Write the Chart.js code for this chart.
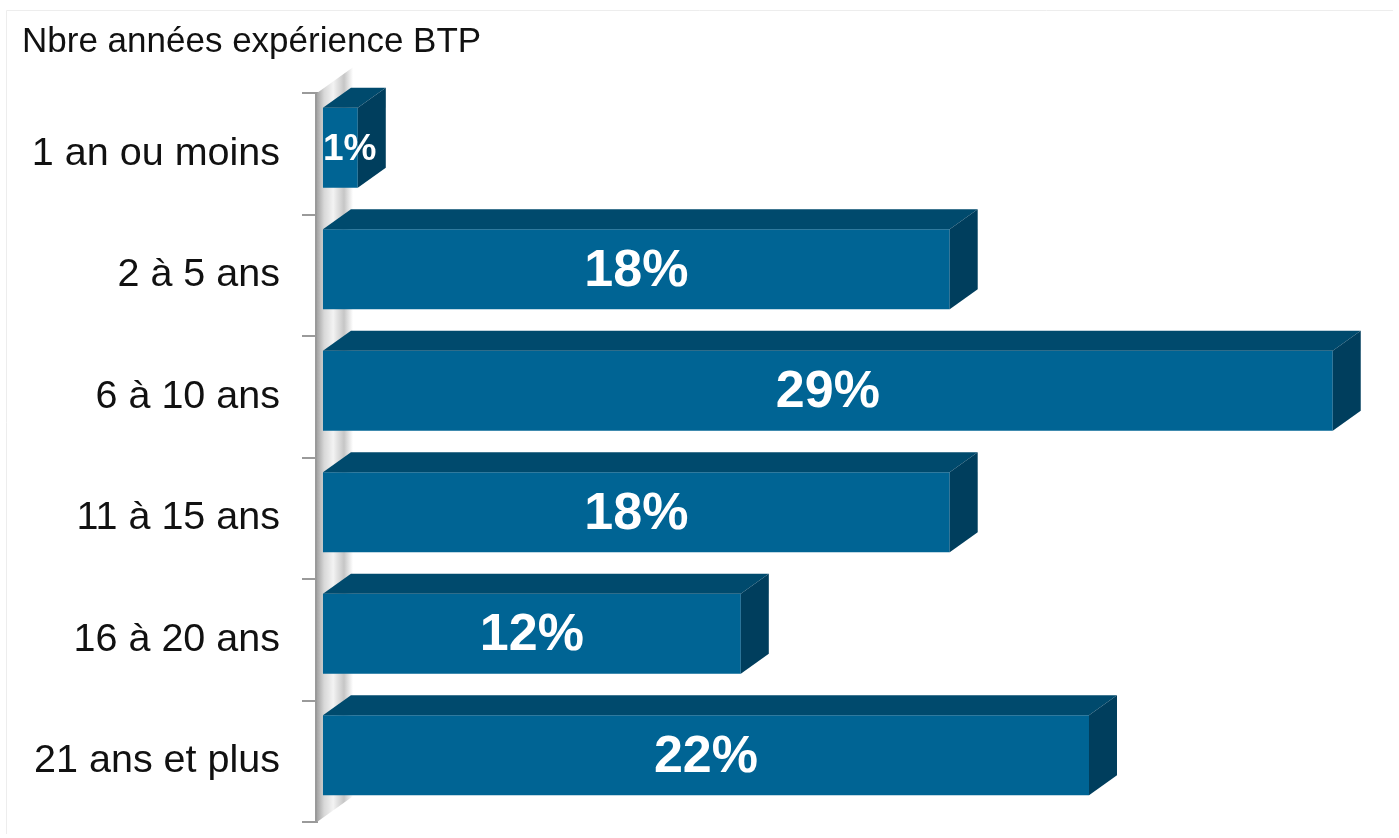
<!DOCTYPE html>
<html><head><meta charset="utf-8">
<script src="https://cdn.jsdelivr.net/npm/chart.js@4"></script>
<style>html,body{margin:0;padding:0;background:#fff;overflow:hidden}</style>
</head><body>
<canvas id="c" width="1399" height="838"></canvas>
<script>
const titleText = 'Nbre années expérience BTP';
const categories = ['1 an ou moins', '2 à 5 ans', '6 à 10 ans', '11 à 15 ans', '16 à 20 ans', '21 ans et plus'];
const percentages = [1, 18, 29, 18, 12, 22];
const valueLabels = ['1%', '18%', '29%', '18%', '12%', '22%'];

const FRONT = '#006494', TOPC = '#004a6d', SIDE = '#003e5d';
const DX = 28, DY = 20, LIFT = 6;

const bars3d = {
  id: 'bars3d',
  beforeDraw(chart) {
    const ctx = chart.ctx;
    ctx.save();
    ctx.strokeStyle = '#ededed';
    ctx.lineWidth = 1;
    ctx.beginPath();
    ctx.moveTo(6.5, 834); ctx.lineTo(6.5, 10.5); ctx.lineTo(1393, 10.5);
    ctx.stroke();
    ctx.restore();
  },
  beforeDatasetsDraw(chart) {
    const ctx = chart.ctx, a = chart.chartArea;
    const L = a.left + 1, W = 36, sh = W * DY / DX;
    const g = ctx.createLinearGradient(L, 0, L + W, 0);
    g.addColorStop(0, '#a4a4a4');
    g.addColorStop(0.2, '#d8d8d8');
    g.addColorStop(0.45, '#f3f3f3');
    g.addColorStop(0.75, '#c6c6c6');
    g.addColorStop(1, '#ffffff');
    ctx.save();
    ctx.fillStyle = g;
    ctx.beginPath();
    ctx.moveTo(L, a.top);
    ctx.lineTo(L + W, a.top - sh);
    ctx.lineTo(L + W, a.bottom - sh);
    ctx.lineTo(L, a.bottom);
    ctx.closePath();
    ctx.fill();
    ctx.restore();
    ctx.save();
    ctx.translate(0, -LIFT);
  },
  afterDatasetsDraw(chart) {
    const ctx = chart.ctx;
    const meta = chart.getDatasetMeta(0);
    meta.data.forEach((el, i) => {
      const p = el.getProps(['x', 'y', 'base', 'height'], true);
      const top = p.y - p.height / 2, bot = p.y + p.height / 2;
      ctx.fillStyle = TOPC;
      ctx.beginPath();
      ctx.moveTo(p.base, top);
      ctx.lineTo(p.base + DX, top - DY);
      ctx.lineTo(p.x + DX, top - DY);
      ctx.lineTo(p.x, top);
      ctx.closePath();
      ctx.fill();
      ctx.fillStyle = SIDE;
      ctx.beginPath();
      ctx.moveTo(p.x, top);
      ctx.lineTo(p.x + DX, top - DY);
      ctx.lineTo(p.x + DX, bot - DY);
      ctx.lineTo(p.x, bot);
      ctx.closePath();
      ctx.fill();
    });
    meta.data.forEach((el, i) => {
      const p = el.getProps(['x', 'y', 'base', 'height'], true);
      const txt = valueLabels[i];
      let size = 52;
      ctx.font = 'bold ' + size + 'px "Liberation Sans", Arial, sans-serif';
      let w = ctx.measureText(txt).width;
      if (w > (p.x - p.base)) {
        size = 37;
        ctx.font = 'bold ' + size + 'px "Liberation Sans", Arial, sans-serif';
        w = ctx.measureText(txt).width;
      }
      const cx = Math.max((p.base + p.x) / 2, p.base + w / 2);
      ctx.fillStyle = '#ffffff';
      ctx.textAlign = 'center';
      ctx.textBaseline = 'middle';
      ctx.fillText(txt, cx, p.y + 2);
    });
    ctx.restore();
  }
};

new Chart(document.getElementById('c'), {
  type: 'bar',
  data: {
    labels: categories,
    datasets: [{
      data: percentages,
      backgroundColor: FRONT,
      borderWidth: 0,
      barPercentage: 0.658,
      categoryPercentage: 1
    }]
  },
  options: {
    indexAxis: 'y',
    responsive: false,
    animation: false,
    devicePixelRatio: 1,
    layout: { padding: { left: 22, right: 21, top: 0, bottom: 16 } },
    plugins: {
      legend: { display: false },
      tooltip: { enabled: false },
      title: {
        display: true, text: titleText, align: 'start', color: '#111',
        font: { family: '"Liberation Sans", Arial, sans-serif', size: 35, weight: 'normal' },
        padding: { top: 21, bottom: 30 }
      }
    },
    scales: {
      x: { display: false, min: -0.2, max: 30.3 },
      y: {
        afterFit(s) { s.width = 294; s.paddingTop = 0; s.paddingBottom = 0; },
        grid: { offset: true, drawOnChartArea: false, tickLength: 14, color: '#9a9a9a', lineWidth: 2 },
        border: { display: true, color: '#9a9a9a', width: 3 },
        ticks: { color: '#111', padding: 22, font: { family: '"Liberation Sans", Arial, sans-serif', size: 39.5 } }
      }
    }
  },
  plugins: [bars3d]
});
</script>
</body></html>
